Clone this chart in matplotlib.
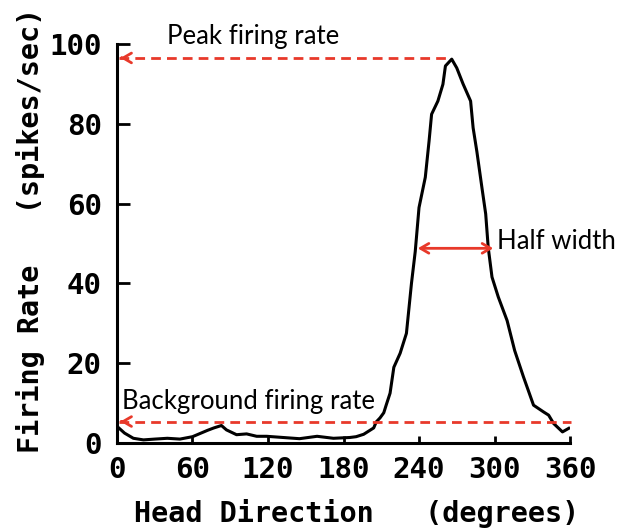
import matplotlib
matplotlib.use('Agg')
import matplotlib.pyplot as plt

# Tuning curve of a head-direction cell
direction = [0, 6, 13, 21, 30, 40, 50, 60, 66, 72, 77, 83, 87, 95, 103, 111, 119,
             132, 145, 159, 172, 185, 190, 196, 199, 204, 206, 209, 212, 214, 217,
             220, 225, 230, 234, 237, 240, 245, 248, 250, 255, 259, 261, 266, 270,
             275, 281, 283, 286, 290, 293, 295, 298, 303, 310, 316, 323, 331, 339,
             343, 347, 354, 359]
rate = [4.2, 2.5, 1.2, 0.8, 1.0, 1.2, 1.0, 1.6, 2.4, 3.2, 3.8, 4.4, 3.3, 2.1, 2.3,
        1.7, 1.7, 1.4, 1.1, 1.7, 1.2, 1.4, 1.6, 2.2, 2.8, 3.8, 5.3, 6.3, 7.6, 9.6,
        12.5, 19.0, 22.5, 27.5, 40.0, 48.0, 59.0, 66.6, 75.7, 82.4, 85.7, 89.9,
        94.5, 96.2, 94.0, 90.0, 85.7, 79.0, 73.0, 64.0, 57.4, 49.0, 41.6, 36.6,
        30.7, 23.2, 16.6, 9.5, 7.8, 7.0, 4.9, 2.8, 3.7]

x_ticks = [0, 60, 120, 180, 240, 300, 360]
y_ticks = [0, 20, 40, 60, 80, 100]

peak_rate = 96.5
background_rate = 5.4
peak_direction = 263
half_width = [239, 299]
half_level = 48.8

RED = '#e8392a'
MONO = 'DejaVu Sans Mono'
NOTE = 'Lato'

fig = plt.figure(figsize=(6.21, 5.30), dpi=100)
ax = fig.add_axes([0.1884, 0.164, 0.7295, 0.753])

ax.plot(direction, rate, color='black', lw=2.2, solid_joinstyle='round')

ax.set_xlim(0, 360)
ax.set_ylim(0, 100)
ax.spines['top'].set_visible(False)
ax.spines['right'].set_visible(False)
ax.spines['left'].set_linewidth(2.2)
ax.spines['bottom'].set_linewidth(2.2)

ax.set_xticks(x_ticks)
ax.set_yticks(y_ticks)
ax.tick_params(axis='y', direction='in', length=9, width=2, pad=11)
ax.tick_params(axis='x', direction='in', length=5, width=2, pad=9)
for lab in ax.get_xticklabels() + ax.get_yticklabels():
    lab.set_fontfamily(MONO)
    lab.set_fontweight('bold')
    lab.set_fontsize(21)

ax.set_xlabel('Head Direction   (degrees)', fontfamily=MONO, fontweight='bold',
              fontsize=20.5)
ax.set_ylabel('Firing Rate   (spikes/sec)', fontfamily=MONO, fontweight='bold',
              fontsize=20.5)
ax.xaxis.set_label_coords(0.528, -0.14)
ax.yaxis.set_label_coords(-0.16, 0.534)

# Peak firing rate marker
ax.plot([1.5, peak_direction], [peak_rate, peak_rate], color=RED, lw=2,
        dashes=(3.5, 2.2), clip_on=False)
ax.annotate('', xy=(0.5, peak_rate), xytext=(6, peak_rate),
            arrowprops=dict(arrowstyle='->,head_length=0.6,head_width=0.35',
                            color=RED, lw=2), annotation_clip=False)
ax.text(40, 101.8, 'Peak firing rate', fontfamily=NOTE, fontsize=18.5,
        va='center', ha='left')

# Background firing rate marker
ax.plot([1.5, 361], [background_rate, background_rate], color=RED, lw=2,
        dashes=(3.5, 2.2), clip_on=False)
ax.annotate('', xy=(0.5, background_rate), xytext=(6, background_rate),
            arrowprops=dict(arrowstyle='->,head_length=0.6,head_width=0.35',
                            color=RED, lw=2), annotation_clip=False)
ax.text(4, 10.4, 'Background firing rate', fontfamily=NOTE, fontsize=18.5,
        va='center', ha='left')

# Half width
ax.annotate('', xy=(half_width[0], half_level), xytext=(half_width[1], half_level),
            arrowprops=dict(arrowstyle='<->,head_length=0.6,head_width=0.35',
                            color=RED, lw=2, shrinkA=0, shrinkB=0))
ax.text(302, 50.5, 'Half width', fontfamily=NOTE, fontsize=18.5,
        va='center', ha='left')

fig.savefig('out.png', dpi=100)
